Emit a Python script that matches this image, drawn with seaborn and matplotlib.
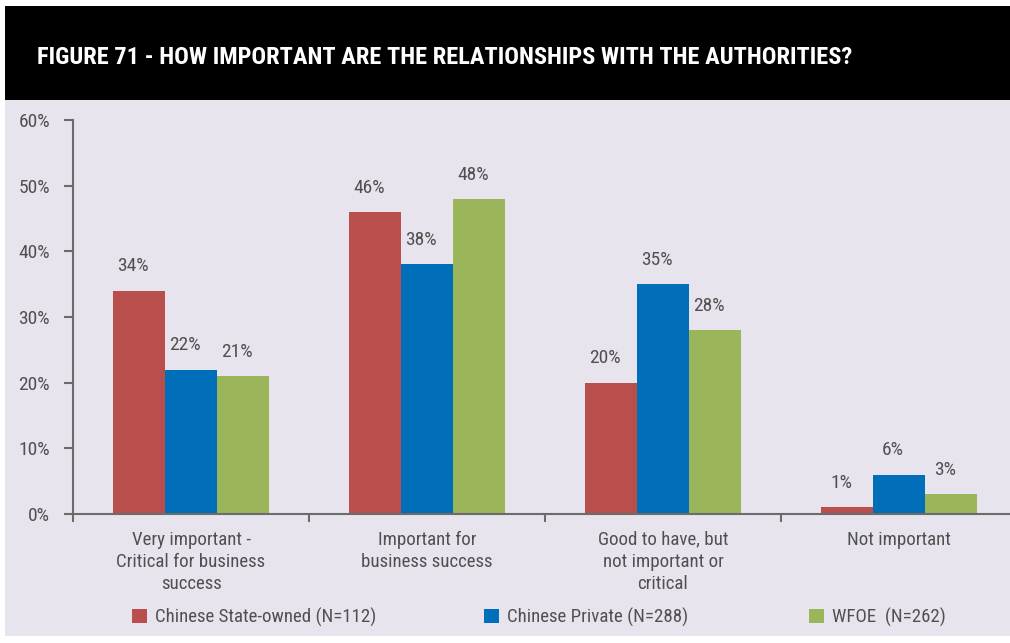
import pandas as pd
import matplotlib.pyplot as plt
import matplotlib.patches as mpatches
from matplotlib import font_manager
import seaborn as sns

categories = ["Very important -\nCritical for business\nsuccess",
              "Important for\nbusiness success",
              "Good to have, but\nnot important or\ncritical",
              "Not important"]
groups = ["Chinese State-owned (N=112)", "Chinese Private (N=288)", "WFOE  (N=262)"]
state_owned = [34, 46, 20, 1]
private = [22, 38, 35, 6]
wfoe = [21, 48, 28, 3]
colors = ["#b94f4d", "#006eb9", "#9bb65a"]
title = "FIGURE 71 - HOW IMPORTANT ARE THE RELATIONSHIPS WITH THE AUTHORITIES?"

rows = []
for g, vals in zip(groups, [state_owned, private, wfoe]):
    for c, v in zip(categories, vals):
        rows.append({"category": c, "group": g, "value": v})
df = pd.DataFrame(rows)

# pick a narrow font if one is around
installed = {f.name for f in font_manager.fontManager.ttflist}
font = "DejaVu Sans"
for cand in ["Liberation Sans Narrow", "Roboto Condensed", "DejaVu Sans Condensed", "Liberation Sans"]:
    if cand in installed:
        font = cand
        break

sns.set_style("white")
plt.rcParams["font.family"] = [font, "DejaVu Sans"]
txt = "#505050"
axis_c = "#6b6b6b"
bg = "#e8e4ee"

fig = plt.figure(figsize=(10.1, 6.43), dpi=100, facecolor="white")
# lavender panel and black title band
fig.patches.append(mpatches.Rectangle((5 / 1010, 7 / 643), 1, 536 / 643, transform=fig.transFigure,
                                      facecolor=bg, edgecolor="none", zorder=-5))
fig.patches.append(mpatches.Rectangle((5 / 1010, 1 - 100 / 643), 1, 94 / 643, transform=fig.transFigure,
                                      facecolor="black", edgecolor="none", zorder=-5))
fig.text(37 / 1010, 1 - 58 / 643, title, color="white", fontsize=17.6, fontweight="bold",
         va="center", ha="left")

ax = fig.add_axes([73 / 1010, 129 / 643, 944 / 1010, 394 / 643])
ax.set_facecolor("none")
sns.barplot(data=df, x="category", y="value", hue="group", palette=colors,
            width=0.66, gap=0, ax=ax, saturation=1, legend=False, linewidth=0)

for cont in ax.containers:
    for t in ax.bar_label(cont, fmt="%d%%", padding=11, fontsize=14, color=txt):
        t.xyann = (-4.3, 11)  # labels sit a little left of bar centre

ax.set_xlim(-0.5, 3.5)
ax.set_ylim(0, 60)
ax.set_yticks(range(0, 61, 10))
ax.set_yticklabels([f"{t}%" for t in range(0, 61, 10)])
ax.set_xticks(range(4))
ax.set_xticklabels(categories, linespacing=1.3)
ax.set_xticks([-0.5, 0.5, 1.5, 2.5, 3.5], minor=True)
ax.tick_params(axis="x", which="major", bottom=True, length=0, pad=12, labelsize=13.6, labelcolor=txt)
ax.tick_params(axis="x", which="minor", bottom=True, length=6, width=1.5, color=axis_c, direction="out")
ax.tick_params(axis="y", left=True, length=6.5, width=1.5, color=axis_c, direction="out",
               pad=10, labelsize=14, labelcolor=txt)
ax.set_xlabel("")
ax.set_ylabel("")
for s in ["top", "right"]:
    ax.spines[s].set_visible(False)
for s in ["left", "bottom"]:
    ax.spines[s].set_color(axis_c)
    ax.spines[s].set_linewidth(1.5)

# one legend entry per slot, spread along the bottom
for c, g, x in zip(colors, groups, [115, 467, 792]):
    fig.legend([mpatches.Patch(facecolor=c, edgecolor="none")], [g], loc="center left",
               bbox_to_anchor=(x / 1010, 1 - 617 / 643), frameon=False, fontsize=13.6,
               labelcolor=txt, handlelength=0.8, handleheight=0.8, handletextpad=0.4)

fig.savefig("out.png", dpi=100, facecolor="white")
